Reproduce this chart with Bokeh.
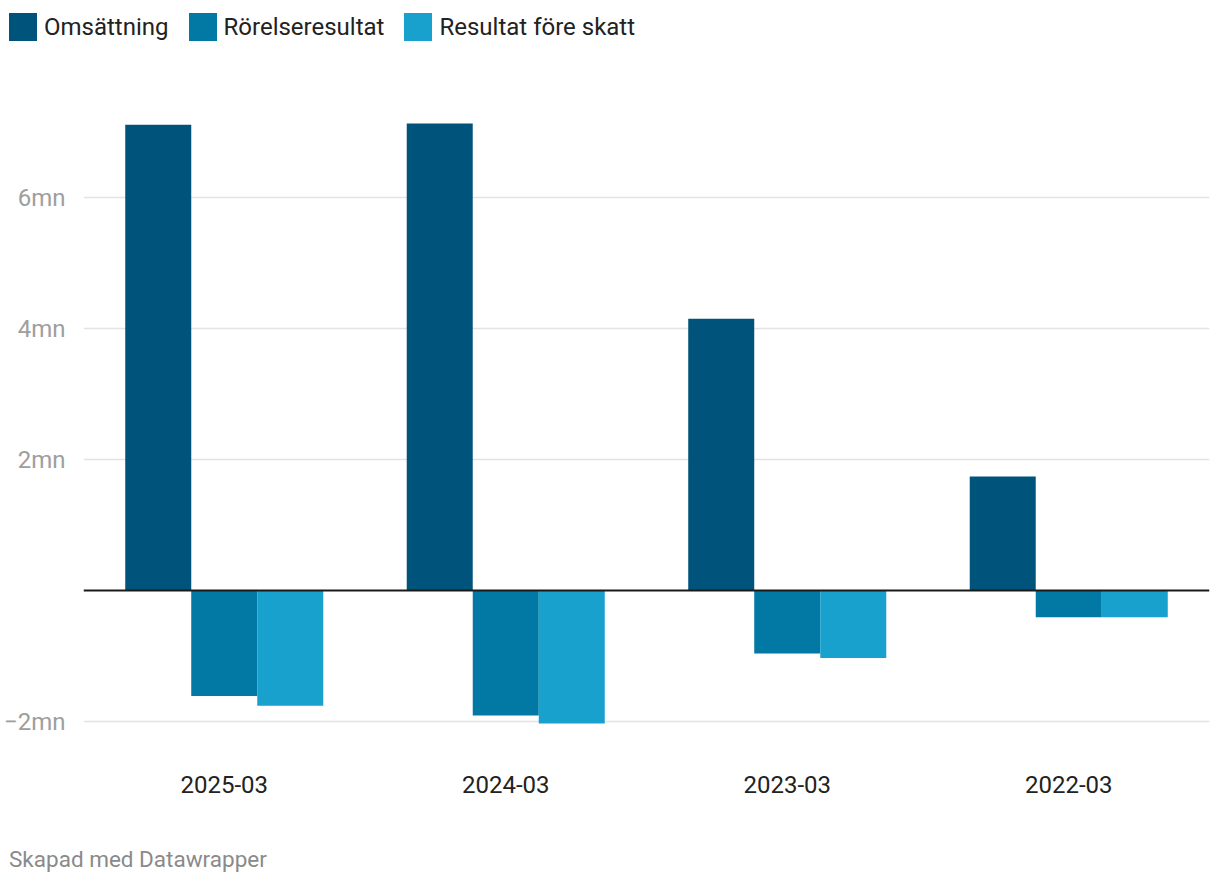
from bokeh.plotting import figure
from bokeh.models import Range1d, FactorRange, Span, ColumnDataSource, CustomJSTickFormatter, Div
from bokeh.transform import dodge
from bokeh.layouts import column
from bokeh.embed import file_html
from bokeh.resources import INLINE

# ---------------- data ----------------
periods = ["2025-03", "2024-03", "2023-03", "2022-03"]
series = ["Omsättning", "Rörelseresultat", "Resultat före skatt"]
colors = ["#00547c", "#0279a5", "#19a1cd"]
omsattning = [7.11e6, 7.13e6, 4.15e6, 1.74e6]
rorelseresultat = [-1.61e6, -1.91e6, -0.96e6, -0.41e6]
resultat_fore_skatt = [-1.76e6, -2.03e6, -1.03e6, -0.41e6]
y_ticks = [-2e6, 2e6, 4e6, 6e6]
y_tick_labels = ["\u22122mn", "2mn", "4mn", "6mn"]
footer_text = "Skapad med Datawrapper"

FONT = "Roboto"

# ---------------- legend (HTML) ----------------
items_html = "".join(
    f'<span style="display:inline-block;width:28px;height:28px;background:{c};margin-right:7px;flex:none"></span>'
    f'<span style="margin-right:20px;white-space:nowrap">{s}</span>'
    for s, c in zip(series, colors))
legend_div = Div(text=f'<div style="display:flex;align-items:center;font-family:Roboto;font-size:24px;'
                      f'color:#222222;padding:8px 0 0 4px;line-height:28px">{items_html}</div>',
                 width=1204, height=56)

# ---------------- main chart ----------------
src = ColumnDataSource(dict(period=periods, oms=omsattning, ror=rorelseresultat, res=resultat_fore_skatt))
p = figure(x_range=FactorRange(*periods), y_range=Range1d(-2.29e6, 7.94e6),
           frame_width=1126, frame_height=670, toolbar_location=None, output_backend="svg",
           min_border_left=75, min_border_right=4, min_border_top=4, min_border_bottom=75,
           outline_line_color=None)
p.x_range.range_padding = 0
bw = 0.2345
for key, off, col in zip(["oms", "ror", "res"], [-bw, 0, bw], colors):
    p.vbar(x=dodge("period", off, range=p.x_range), top=key, bottom=0, width=bw,
           source=src, color=col, line_color=None)

p.add_layout(Span(location=0, dimension="width", line_color="#1a1a1a", line_width=2))

p.xgrid.visible = False
p.ygrid.grid_line_color = "#e3e3e3"
p.ygrid.grid_line_width = 1.5

p.yaxis.ticker = y_ticks
p.yaxis.formatter = CustomJSTickFormatter(args=dict(tvals=y_ticks, tlabels=y_tick_labels),
                                          code="const i = tvals.indexOf(tick); return i >= 0 ? tlabels[i] : '';")
p.yaxis.axis_line_color = None
p.yaxis.major_tick_line_color = None
p.yaxis.minor_tick_line_color = None
p.yaxis.major_label_text_color = "#9e9e9e"
p.yaxis.major_label_text_font = FONT
p.yaxis.major_label_text_font_size = "24px"
p.yaxis.major_label_standoff = 12

p.xaxis.axis_line_color = None
p.xaxis.major_tick_line_color = None
p.xaxis.minor_tick_line_color = None
p.xaxis.major_label_text_color = "#222222"
p.xaxis.major_label_text_font = FONT
p.xaxis.major_label_text_font_size = "24px"
p.xaxis.major_label_standoff = 29

# ---------------- footer (HTML) ----------------
footer_div = Div(text=f'<div style="font-family:Roboto;font-size:22.5px;color:#8a8a8a;'
                      f'padding:26px 0 0 4px;line-height:26px;white-space:nowrap">{footer_text}</div>',
                 width=1204, height=64)

layout = column(legend_div, p, footer_div, spacing=0)
open("out.html", "w").write(file_html(layout, INLINE))
